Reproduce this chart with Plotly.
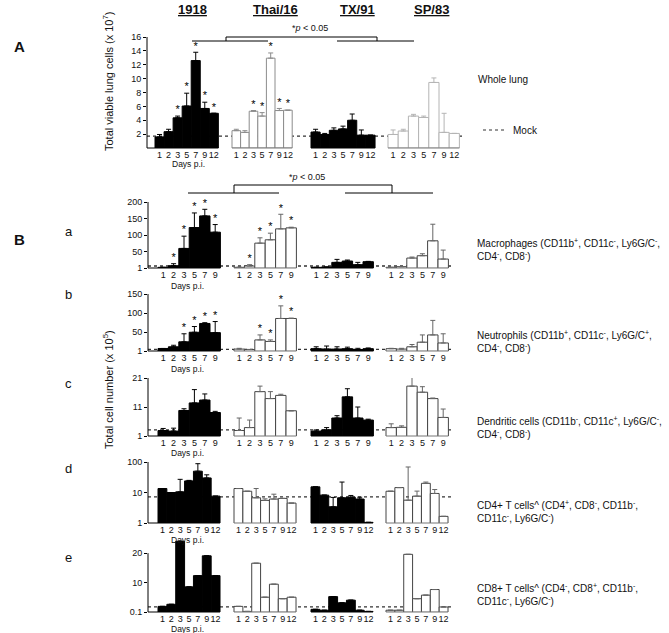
import plotly.graph_objects as go

W, H = 669, 633
FONT = "Liberation Sans, Arial, sans-serif"

# ---------------- data ----------------
strains = ["1918", "Thai/16", "TX/91", "SP/83"]
days_long = ["1", "2", "3", "5", "7", "9", "12"]
days_short = ["1", "2", "3", "5", "7", "9"]
filled = [True, False, True, False]

# A: whole lung (x 10^7)
lung_mean = [[1.6, 2.35, 4.35, 6.05, 12.6, 5.7, 5.0],
             [2.5, 2.25, 5.3, 4.6, 12.95, 5.4, 5.45],
             [2.3, 1.95, 2.55, 2.75, 4.0, 1.85, 1.85],
             [1.95, 2.45, 4.6, 4.4, 9.45, 2.25, 2.1]]
lung_sd = [[0.35, 0.35, 0.25, 1.85, 1.2, 0.9, 0],
           [0.2, 0.25, 0.1, 0.5, 0.75, 0.3, 0],
           [0.4, 0.15, 0.35, 0.4, 0.9, 0.75, 0],
           [0.65, 0.25, 0.25, 0.2, 0.65, 2.75, 0]]
lung_star = [[0, 0, 1, 1, 1, 1, 1], [0, 0, 1, 1, 1, 1, 1],
             [0] * 7, [0] * 7]
lung_mock = 1.72

# B a: macrophages (x 10^5)
mac_mean = [[3, 8, 60, 123, 158, 109],
            [3, 7, 76, 86, 119, 122],
            [3, 4, 18, 22, 11, 20],
            [3, 5, 31, 38, 83, 28]]
mac_sd = [[0, 6, 37, 44, 20, 23],
          [0, 4, 16, 20, 44, 2],
          [0, 0, 9, 3, 7, 1],
          [0, 0, 3, 6, 50, 27]]
mac_star = [[0, 1, 1, 1, 1, 1], [0, 1, 1, 1, 1, 1], [0] * 6, [0] * 6]
mac_mock = 7

# B b: neutrophils
neu_mean = [[7.6, 12, 25, 50, 73, 49],
            [6, 5, 30, 26, 86, 86],
            [7, 6, 6, 7, 5, 7],
            [7, 6, 12, 24, 43, 22]]
neu_sd = [[0, 4, 21, 15, 2, 29],
          [2, 0, 13, 4, 33, 1],
          [5, 8, 6, 4, 3, 2],
          [1, 2, 6, 19, 38, 24]]
neu_star = [[0, 0, 1, 1, 1, 1], [0, 0, 1, 1, 1, 1], [0] * 6, [0] * 6]
neu_mock = 5

# B c: dendritic cells
dc_mean = [[2.9, 2.7, 9.8, 12.4, 13.4, 9.1],
           [2.9, 3.9, 16.3, 13.9, 15.0, 9.7],
           [2.7, 3.1, 7.2, 14.5, 7.2, 6.5],
           [3.9, 4.0, 18.2, 16.1, 13.9, 7.4]]
dc_sd = [[0.7, 1.0, 0.6, 4.6, 2.1, 0.4],
         [4.3, 2.6, 1.9, 2.4, 0.4, 0],
         [0.4, 0.8, 0.8, 2.8, 3.8, 0.3],
         [1.3, 0.5, 3.3, 1.9, 0.2, 2.9]]
dc_star = [[0] * 6] * 4
dc_mock = 3.1

# B d: CD4+ T cells (log scale)
cd4_mean = [[13.5, 10, 10.5, 24, 50, 30, 7.6],
            [13.5, 11, 6.7, 5.5, 6.1, 6.4, 4.5],
            [15.3, 8.2, 3.4, 6.7, 7.0, 6.1, 1.05],
            [11, 14.5, 5.6, 7.6, 20, 9.3, 1.65]]
cd4_sd = [[0, 0, 16.5, 1, 38, 8, 0],
          [0, 0, 6.8, 0.7, 2.7, 0, 0],
          [0, 0, 3.5, 15.3, 1.0, 0.9, 0],
          [0, 0, 63, 3.5, 2, 3.2, 0]]
cd4_star = [[0] * 7] * 4
cd4_mock = 7.2

# B e: CD8+ T cells
cd8_mean = [[2.0, 2.7, 24.0, 8.6, 12.4, 19.1, 12.4],
            [2.0, 0.3, 16.6, 5.1, 9.5, 4.6, 5.1],
            [1.0, 0.7, 5.3, 3.2, 4.1, 0.7, 0.3],
            [0.7, 0.7, 19.6, 4.6, 5.8, 7.7, 1.8]]
cd8_sd = [[0] * 7] * 4
cd8_star = [[0] * 7] * 4
cd8_mock = 1.8

# ---------------- layout helpers (pixel geometry) ----------------
def X(p):
    return p / W


def Y(p):
    return 1 - p / H


B_START = [158, 234, 311, 386]
panels = [
    dict(mean=lung_mean, sd=lung_sd, star=lung_star, mock=lung_mock, days=days_long,
         xpx=(147, 462), ypx=(148, 37), gstart=[155, 232, 311, 388], bw=[9.05, 8.6, 9.15, 10.2],
         yr=(0, 16), ytop=16, ytype="linear", ytv=[2, 4, 6, 8, 10, 12, 14, 16], dayslab=(188, 164),
         white_line=["#8c8c8c", "#b4b4b4"]),
    dict(mean=mac_mean, sd=mac_sd, star=mac_star, mock=mac_mock, days=days_short,
         xpx=(148, 452), ypx=(268, 202), gstart=B_START, bw=[10.4] * 4,
         yr=(1, 200), ytop=200, ytype="linear", ytv=[1, 50, 100, 150, 200], dayslab=(187, 286),
         white_line=["#444", "#444"]),
    dict(mean=neu_mean, sd=neu_sd, star=neu_star, mock=neu_mock, days=days_short,
         xpx=(148, 452), ypx=(351, 294), gstart=B_START, bw=[10.4] * 4,
         yr=(1, 150), ytop=150, ytype="linear", ytv=[1, 50, 100, 150], dayslab=(187, 369),
         white_line=["#444", "#444"]),
    dict(mean=dc_mean, sd=dc_sd, star=dc_star, mock=dc_mock, days=days_short,
         xpx=(148, 452), ypx=(436, 378), gstart=B_START, bw=[10.4] * 4,
         yr=(1, 21), ytop=21, ytype="linear", ytv=[1, 11, 21], dayslab=(187, 453),
         white_line=["#444", "#444"]),
    dict(mean=cd4_mean, sd=cd4_sd, star=cd4_star, mock=cd4_mock, days=days_long,
         xpx=(148, 452), ypx=(523, 462), gstart=B_START, bw=[8.86] * 4,
         yr=(0, 2), ytop=100, ytype="log", ytv=[1, 10, 100], dayslab=(187, 540),
         white_line=["#444", "#444"]),
    dict(mean=cd8_mean, sd=cd8_sd, star=cd8_star, mock=cd8_mock, days=days_long,
         xpx=(148, 452), ypx=(612, 536), gstart=B_START, bw=[8.86] * 4,
         yr=(0.1, 25.8), ytop=20, ytype="linear", ytv=[0.1, 10, 20], dayslab=(187, 629),
         white_line=["#444", "#444"]),
]

fig = go.Figure()
shapes = []
annotations = []
layout = dict(template="none", width=W, height=H, margin=dict(l=0, r=0, t=0, b=0, pad=0),
              paper_bgcolor="white", plot_bgcolor="rgba(0,0,0,0)",
              showlegend=False, font=dict(family=FONT, color="#111"),
              bargap=0)

for k, p in enumerate(panels, start=1):
    xa = "x" if k == 1 else f"x{k}"
    ya = "y" if k == 1 else f"y{k}"
    n = len(p["days"])
    left = p["xpx"][0]
    tickvals, ticktext = [], []
    wcount = 0
    for g in range(4):
        bw = p["bw"][g]
        g0 = p["gstart"][g] - left
        xs = [g0 + (i + 0.5) * bw for i in range(n)]
        tickvals += xs
        ticktext += p["days"]
        if filled[g]:
            fill, lc, ec = "black", "black", "black"
        else:
            lc = p["white_line"][wcount]
            wcount += 1
            fill, ec = "white", lc if k == 1 else "#666"
        fig.add_trace(go.Bar(
            x=xs, y=p["mean"][g], width=[bw] * n, xaxis=xa, yaxis=ya,
            marker=dict(color=fill, line=dict(color=lc, width=1)),
            error_y=dict(type="data", array=p["sd"][g], arrayminus=[0] * n,
                         symmetric=False, color=ec, thickness=1, width=2.5),
            hoverinfo="skip"))
        sx = [xs[i] for i in range(n) if p["star"][g][i]]
        sy = [p["mean"][g][i] + p["sd"][g][i] for i in range(n) if p["star"][g][i]]
        if sx:
            fig.add_trace(go.Scatter(
                x=sx, y=sy, mode="text", text=["*"] * len(sx),
                textposition="top center", textfont=dict(size=11, color="#000000", family=FONT),
                xaxis=xa, yaxis=ya, hoverinfo="skip", cliponaxis=False))
        x0 = 0 if g == 0 else g0
        shapes.append(dict(type="line", xref=xa, yref=f"{ya} domain",
                           x0=x0, x1=g0 + n * bw, y0=0, y1=0,
                           line=dict(color="black" if filled[g] else "#777", width=1)))
    shapes.append(dict(type="line", xref=f"{xa} domain", yref=ya, x0=0, x1=1,
                       y0=p["mock"], y1=p["mock"], layer="below",
                       line=dict(color="#333", width=1.3, dash="dot")))
    # y-axis spine drawn up to the top tick
    shapes.append(dict(type="line", xref=f"{xa} domain", yref=ya, x0=0, x1=0,
                       y0=(p["yr"][0] if p["ytype"] == "linear" else 1), y1=p["ytop"],
                       line=dict(color="black", width=1)))
    layout[f"xaxis{k}"] = dict(domain=[X(p["xpx"][0]), X(p["xpx"][1])],
                              range=[0, p["xpx"][1] - p["xpx"][0]],
                              anchor=ya, tickvals=tickvals, ticktext=ticktext,
                              showline=False, ticks="", showgrid=False, zeroline=False,
                              automargin=False,
                              tickfont=dict(size=9, color="#111"), tickangle=0)
    layout[f"yaxis{k}"] = dict(domain=[Y(p["ypx"][0]), Y(p["ypx"][1])],
                              range=list(p["yr"]), type=p["ytype"], anchor=xa,
                              showline=False,
                              ticks="outside", ticklen=3, tickcolor="black",
                              tickvals=p["ytv"], showgrid=False, zeroline=False,
                              automargin=False,
                              tickfont=dict(size=9, color="#111"))
    annotations.append(dict(text="Days p.i.", x=X(p["dayslab"][0]), y=Y(p["dayslab"][1]),
                            xref="paper", yref="paper", showarrow=False,
                            font=dict(size=8.5), xanchor="center", yanchor="middle"))

for name, cx in zip(strains, [192, 275, 357, 431]):
    annotations.append(dict(text=f"<b><u>{name}</u></b>", x=X(cx), y=Y(9), xref="paper",
                            yref="paper", showarrow=False, font=dict(size=13),
                            xanchor="center", yanchor="middle"))


def txt(t, x, y, size=10, anchor="left", angle=0):
    annotations.append(dict(text=t, x=X(x), y=Y(y), xref="paper", yref="paper",
                            showarrow=False, font=dict(size=size), xanchor=anchor,
                            yanchor="middle", textangle=angle))


txt("<b>A</b>", 12, 46, 15)
txt("<b>B</b>", 12, 240, 15)
for lab, yy in zip("abcde", [231, 294, 383, 468, 557]):
    txt(lab, 63, yy, 13)
txt("Total viable lung cells (x 10<sup>7</sup>)", 108, 82, 11, "center", -90)
txt("Total cell number (x 10<sup>5</sup>)", 108, 390, 11, "center", -90)
txt("*<i>p</i> < 0.05", 310, 28, 9, "center")
txt("*<i>p</i> < 0.05", 307, 177, 9, "center")
txt("Whole lung", 476, 79, 10)
txt("Mock", 511, 130, 10)
shapes.append(dict(type="line", xref="paper", yref="paper", x0=X(483), x1=X(505),
                   y0=Y(130), y1=Y(130), line=dict(color="#333", width=1.2, dash="dot")))

right = [
    ("Macrophages (CD11b<sup>+</sup>, CD11c<sup>-</sup>, Ly6G/C<sup>-</sup>,", "CD4<sup>-</sup>, CD8<sup>-</sup>)", 243),
    ("Neutrophils (CD11b<sup>+</sup>, CD11c<sup>-</sup>, Ly6G/C<sup>+</sup>,", "CD4<sup>-</sup>, CD8<sup>-</sup>)", 335),
    ("Dendritic cells (CD11b<sup>-</sup>, CD11c<sup>+</sup>, Ly6G/C<sup>-</sup>,", "CD4<sup>-</sup>, CD8<sup>-</sup>)", 421),
    ("CD4+ T cells^ (CD4<sup>+</sup>, CD8<sup>-</sup>, CD11b<sup>-</sup>,", "CD11c<sup>-</sup>, Ly6G/C<sup>-</sup>)", 505),
    ("CD8+ T cells^ (CD4<sup>-</sup>, CD8<sup>+</sup>, CD11b<sup>-</sup>,", "CD11c<sup>-</sup>, Ly6G/C<sup>-</sup>)", 588),
]
for l1, l2, yy in right:
    txt(l1, 475, yy, 10)
    txt(l2, 475, yy + 13, 10)


def seg(x0, y0, x1, y1):
    shapes.append(dict(type="line", xref="paper", yref="paper", x0=X(x0), x1=X(x1),
                       y0=Y(y0), y1=Y(y1), line=dict(color="black", width=1)))


seg(192, 41, 268, 41); seg(226, 41, 226, 37); seg(226, 37, 377, 37)
seg(377, 37, 377, 41); seg(337, 41, 414, 41)
seg(188, 193, 279, 193); seg(234, 193, 234, 185); seg(234, 185, 392, 185)
seg(392, 185, 392, 193); seg(345, 193, 433, 193)

layout["shapes"] = shapes
layout["annotations"] = annotations
fig.update_layout(**layout)
fig.write_html("out.html", config={"displayModeBar": False, "staticPlot": True},
               post_script="document.body.style.margin='0';document.body.style.padding='0';")
